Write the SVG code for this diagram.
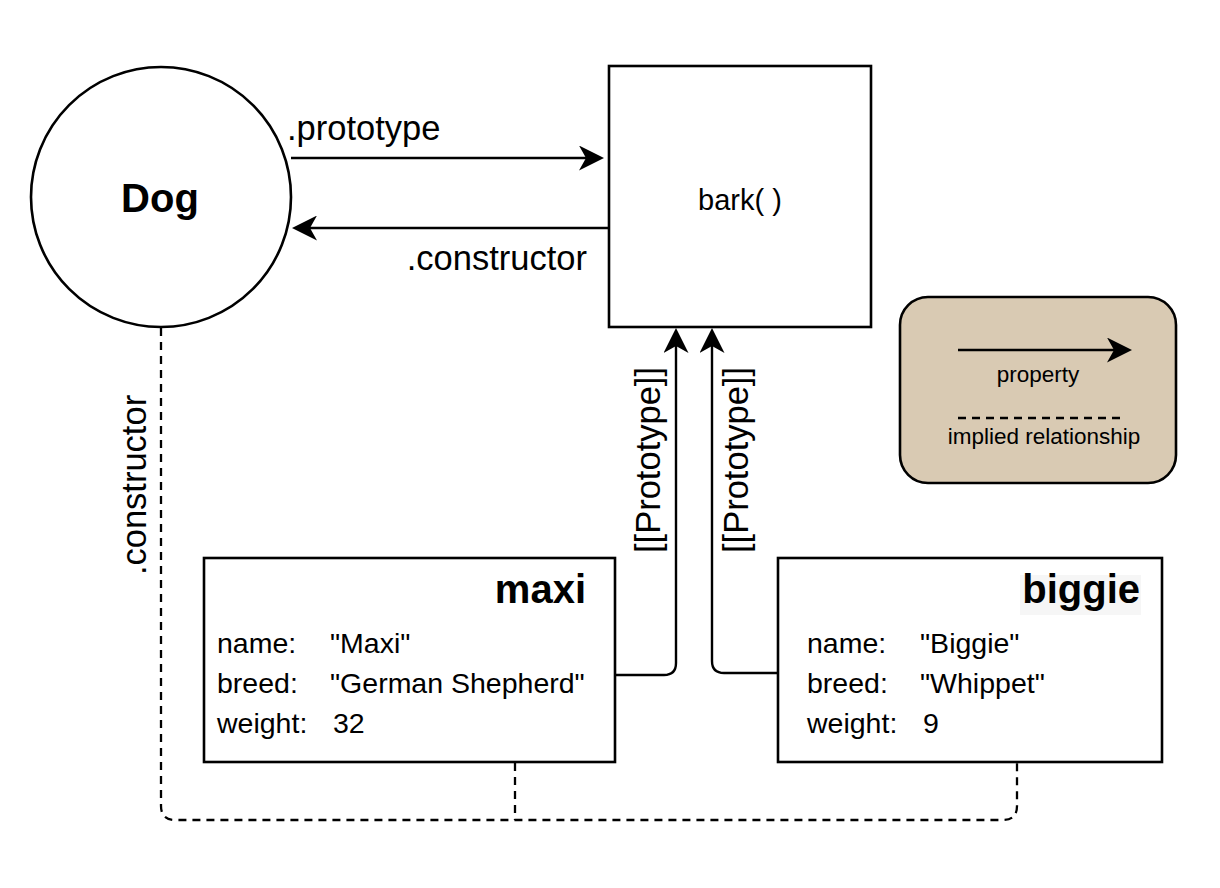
<svg xmlns="http://www.w3.org/2000/svg" width="1220" height="888" viewBox="0 0 1220 888">
<style>
text{font-family:"Liberation Sans",Arial,Helvetica,sans-serif;fill:#000}
.shape{fill:#fff;stroke:#000;stroke-width:2.6}
.line{fill:none;stroke:#000;stroke-width:2.4}
.dash{fill:none;stroke:#000;stroke-width:2.3;stroke-dasharray:8 6}
.lbl{font-size:34.5px}
.title{font-size:40px;font-weight:bold}
.row{font-size:28.5px}
.leg{font-size:22.5px}
</style>
<defs>
<marker id="arr" viewBox="0 0 25 25" refX="7" refY="12.5" markerWidth="25" markerHeight="25" markerUnits="userSpaceOnUse" orient="auto">
<path d="M0,0 L25,12.5 L0,25 L7,12.5 Z" fill="#000"/>
</marker>
</defs>
<rect width="1220" height="888" fill="#fff"/>

<g id="connectors">
<path class="line" d="M291,158 H586" marker-end="url(#arr)"/>
<text class="lbl" x="287" y="140">.prototype</text>
<path class="line" d="M608,228 H310" marker-end="url(#arr)"/>
<text class="lbl" x="587" y="270" text-anchor="end">.constructor</text>
<path class="line" d="M615,675 H664 Q676,675 676,663 V346" marker-end="url(#arr)"/>
<text class="lbl" transform="translate(660,460) rotate(-90)" text-anchor="middle">[[Prototype]]</text>
<path class="line" d="M778,673 H724 Q712,673 712,661 V346" marker-end="url(#arr)"/>
<text class="lbl" transform="translate(748,460) rotate(-90)" text-anchor="middle">[[Prototype]]</text>
<path class="dash" d="M161,328 V806 Q161,820 175,820 H1003 Q1017,820 1017,806 V763"/>
<path class="dash" d="M515,763 V820"/>
<text class="lbl" transform="translate(146,485) rotate(-90)" text-anchor="middle">.constructor</text>
</g>

<g id="dog">
<circle class="shape" cx="161" cy="197" r="130"/>
<text class="title" x="160" y="212" text-anchor="middle">Dog</text>
</g>

<g id="prototype-object">
<rect class="shape" x="609" y="66" width="262" height="261"/>
<text x="740" y="210" text-anchor="middle" font-size="29">bark( )</text>
</g>

<g id="legend">
<rect x="900" y="297" width="276" height="186" rx="28" ry="28" fill="#d9cab3" stroke="#000" stroke-width="2.6"/>
<path class="line" d="M958,350 H1114" marker-end="url(#arr)"/>
<text class="leg" x="1038" y="382" text-anchor="middle">property</text>
<path class="dash" d="M958,418 H1126" stroke-dasharray="9 6.5"/>
<text class="leg" x="1044" y="444" text-anchor="middle">implied relationship</text>
</g>

<g id="maxi">
<rect class="shape" x="204" y="558" width="411" height="204"/>
<text class="title" x="586" y="603" text-anchor="end">maxi</text>
<text class="row" x="217" y="653">name:</text>
<text class="row" x="330" y="653">"Maxi"</text>
<text class="row" x="217" y="693">breed:</text>
<text class="row" x="330" y="693">"German Shepherd"</text>
<text class="row" x="217" y="733">weight:</text>
<text class="row" x="333" y="733">32</text>
</g>

<g id="biggie">
<rect class="shape" x="778" y="558" width="384" height="204"/>
<rect x="1020" y="575" width="121" height="40" fill="#f6f6f6"/>
<text class="title" x="1140" y="603" text-anchor="end">biggie</text>
<text class="row" x="807" y="653">name:</text>
<text class="row" x="920" y="653">"Biggie"</text>
<text class="row" x="807" y="693">breed:</text>
<text class="row" x="920" y="693">"Whippet"</text>
<text class="row" x="807" y="733">weight:</text>
<text class="row" x="923" y="733">9</text>
</g>
</svg>
